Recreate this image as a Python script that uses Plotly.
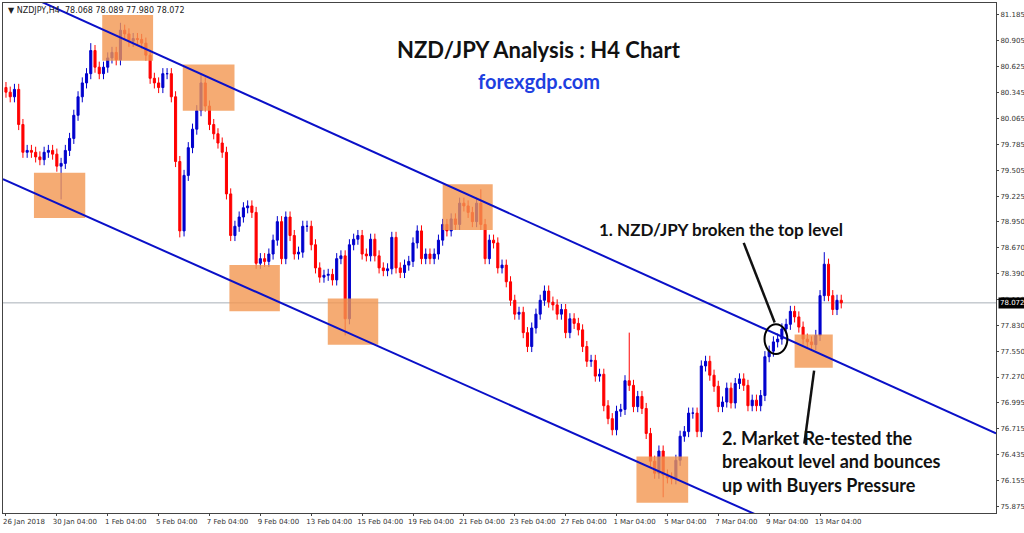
import plotly.graph_objects as go

closes = [80.35,80.30,80.38,80.00,79.70,79.72,79.70,79.65,79.62,79.70,79.72,79.68,79.55,
 79.58,79.72,79.85,80.10,80.30,80.45,80.55,80.80,80.62,80.55,80.62,80.72,80.78,80.70,
 81.02,80.98,80.90,80.93,80.92,80.88,80.75,80.50,80.45,80.40,80.55,80.55,80.30,
 79.60,78.85,79.45,79.75,79.95,80.15,80.45,80.20,80.00,79.90,79.80,79.70,
 79.25,78.80,78.90,79.00,79.10,79.12,79.05,
 78.50,78.55,78.52,78.60,78.75,78.95,78.55,79.00,78.80,78.60,78.62,78.90,78.90,78.70,78.45,78.35,78.37,78.38,78.32,78.55,78.58,77.90,78.70,
 78.76,78.80,78.60,78.58,78.76,78.58,78.45,78.42,78.44,78.78,78.45,78.40,78.48,78.52,78.72,78.85,78.55,78.60,78.55,78.60,78.75,78.92,78.85,78.98,78.92,79.15,79.12,79.05,78.95,79.15,78.92,78.55,78.75,78.72,78.45,78.48,78.30,78.10,77.95,77.97,77.75,77.60,77.80,77.95,78.10,78.20,78.08,78.05,77.95,78.00,77.75,
 77.90,77.85,77.78,77.60,77.44,77.45,77.28,77.30,76.96,76.82,76.70,76.90,76.92,77.23,77.18,76.95,77.06,76.93,76.66,76.36,76.23,76.47,76.21,76.18,76.17,76.37,76.63,76.68,76.88,76.88,76.68,77.39,77.44,77.29,77.17,76.95,77.00,77.15,76.99,77.20,77.25,77.18,76.96,77.02,76.96,77.07,77.49,77.55,77.65,77.68,77.79,77.84,77.98,77.92,77.81,77.68,77.65,77.62,77.72,78.15,78.49,78.15,
 78.00,78.10,78.072]
first_open = 80.40
wick = 0.06
high_over = {27: 81.10, 112: 79.30, 147: 77.75, 193: 78.62, 46: 80.55, 20: 80.88}
low_over = {13: 79.19, 41: 78.78, 80: 77.72, 155: 75.97, 152: 76.30}

tick_idx = list(range(0, 193, 12))
tick_text = ["26 Jan 2018","30 Jan 04:00","1 Feb 04:00","5 Feb 04:00","7 Feb 04:00","9 Feb 04:00",
             "13 Feb 04:00","15 Feb 04:00","19 Feb 04:00","21 Feb 04:00","23 Feb 04:00","27 Feb 04:00",
             "1 Mar 04:00","5 Mar 04:00","7 Mar 04:00","9 Mar 04:00","13 Mar 04:00"]
price_ticks = [81.185,80.905,80.625,80.345,80.065,79.785,79.505,79.225,78.950,78.670,78.390,
               78.110,77.830,77.550,77.270,76.995,76.715,76.435,76.155,75.875]
last_price = 78.072

upper_line = [(7.5, 81.345), (233.5, 76.66)]
lower_line = [(-0.7, 79.41), (178.5, 75.75)]
boxes = [(6.6,18.7,78.99,79.48),(22.7,34.7,80.69,81.185),(41.7,53.9,80.15,80.65),
         (52.7,64.6,77.98,78.48),(75.9,87.8,77.62,78.12),(103.0,114.8,78.86,79.355),
         (186.0,195.0,77.37,77.73),(148.7,160.9,75.91,76.41)]
ellipse = (178.9, 184.3, 77.52, 77.84)
arrows = [((174.0, 78.72), (181.3, 77.86)), ((190.6, 77.34), (188.3, 76.55))]

opens = [first_open] + closes[:-1]
n = len(closes)
highs = [high_over.get(i, max(opens[i], closes[i]) + wick) for i in range(n)]
lows = [low_over.get(i, min(opens[i], closes[i]) - wick) for i in range(n)]

fig = go.Figure()
fig.add_trace(go.Candlestick(x=list(range(n)), open=opens, high=highs, low=lows, close=closes,
    increasing=dict(line=dict(color="#0000CD", width=1), fillcolor="#0000CD"),
    decreasing=dict(line=dict(color="#FF0000", width=1), fillcolor="#FF0000"),
    whiskerwidth=0, hoverinfo="skip", showlegend=False))

shapes = []
for (x0, x1, y0, y1) in boxes:
    shapes.append(dict(type="rect", x0=x0, x1=x1, y0=y0, y1=y1, xref="x", yref="y",
                       fillcolor="rgba(243,150,80,0.8)", line=dict(width=0), layer="above"))
for (a, b) in [upper_line, lower_line]:
    shapes.append(dict(type="line", x0=a[0], y0=a[1], x1=b[0], y1=b[1], xref="x", yref="y",
                       line=dict(color="#0A10C8", width=2), layer="above"))
shapes.append(dict(type="line", x0=0, x1=1, xref="paper", y0=last_price, y1=last_price, yref="y",
                   line=dict(color="#A8B0B8", width=1), layer="below"))
shapes.append(dict(type="circle", x0=ellipse[0], x1=ellipse[1], y0=ellipse[2], y1=ellipse[3],
                   xref="x", yref="y", line=dict(color="black", width=2), layer="above"))
for (a, b) in arrows:
    shapes.append(dict(type="line", x0=a[0], y0=a[1], x1=b[0], y1=b[1], xref="x", yref="y",
                       line=dict(color="#111", width=2.5), layer="above"))

bold = "Lato"
ann = [
    dict(x=0.54, y=0.94, xref="paper", yref="paper", text="<b>NZD/JPY Analysis : H4 Chart</b>",
         showarrow=False, font=dict(size=22, color="#111", family=bold)),
    dict(x=0.54, y=0.875, xref="paper", yref="paper", text="<b>forexgdp.com</b>",
         showarrow=False, font=dict(size=20, color="#1E3FE0", family=bold)),
    dict(x=0.598, y=0.555, xref="paper", yref="paper", text="<b>1. NZD/JPY broken the top level</b>",
         showarrow=False, xanchor="left", font=dict(size=17, color="#111", family=bold)),
    dict(x=0.722, y=0.03, xref="paper", yref="paper", yanchor="bottom", xanchor="left", align="left",
         text="<b>2. Market Re-tested the<br>breakout level and bounces<br>up with Buyers Pressure</b>",
         showarrow=False, font=dict(size=18, color="#111", family=bold)),
    dict(x=0.003, y=0.998, xref="paper", yref="paper", xanchor="left", yanchor="top",
         text="▼ NZDJPY,H4  78.068 78.089 77.980 78.072", showarrow=False,
         font=dict(size=8, color="#222", family="DejaVu Sans")),
    dict(x=1.002, y=last_price, xref="paper", yref="y", xanchor="left", text="78.072",
         showarrow=False, bgcolor="black", font=dict(size=7, color="white", family="DejaVu Sans"),
         borderpad=1),
]

fig.update_layout(
    width=1024, height=533, margin=dict(l=3, r=28, t=3, b=20, autoexpand=False),
    paper_bgcolor="white", plot_bgcolor="white", shapes=shapes, annotations=ann,
    xaxis=dict(range=[-0.7, 233.5], rangeslider=dict(visible=False), tickvals=tick_idx,
               ticktext=tick_text, showgrid=False, zeroline=False, ticks="outside", ticklen=2,
               tickangle=0, ticklabelshift=18, automargin=False,
               tickfont=dict(size=7, color="#333", family="DejaVu Sans"),
               showline=True, linecolor="#444", mirror=True),
    yaxis=dict(range=[75.80, 81.314], side="right", tickvals=price_ticks, automargin=False,
               ticktext=[f"{v:.3f}" for v in price_ticks], showgrid=False, zeroline=False,
               ticks="outside", ticklen=2, tickfont=dict(size=7, color="#333", family="DejaVu Sans"),
               showline=True, linecolor="#444", mirror=True),
)
fig.write_html("out.html", config={"displayModeBar": False},
               post_script="document.body.style.margin='0px';")
